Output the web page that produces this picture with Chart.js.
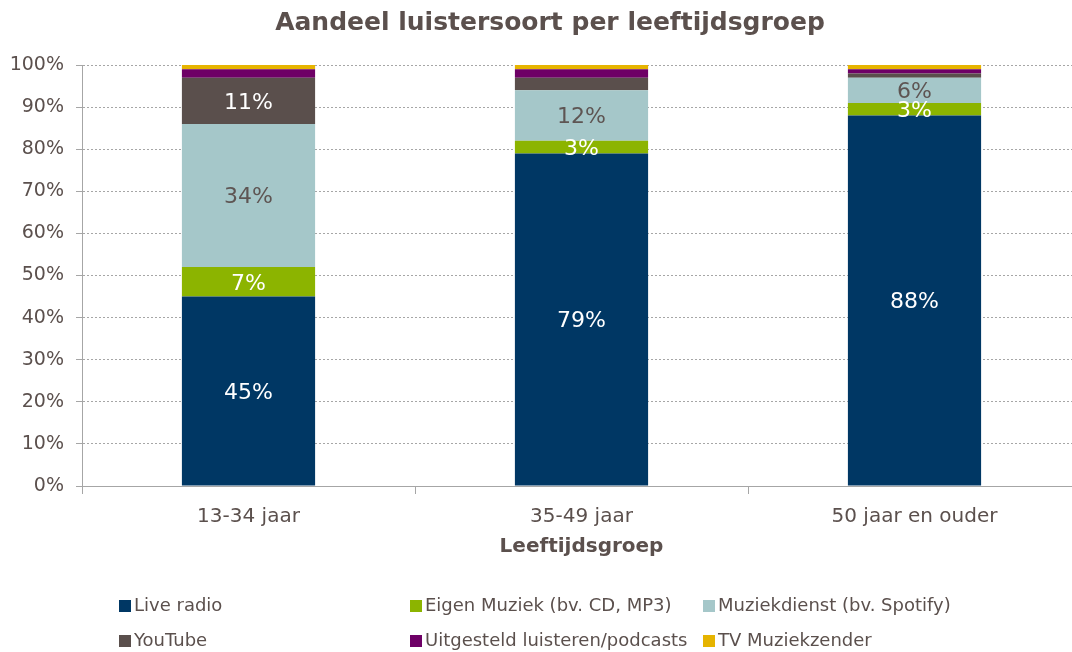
<!DOCTYPE html>
<html>
<head>
<meta charset="utf-8">
<title>Aandeel luistersoort per leeftijdsgroep</title>
<script src="https://cdn.jsdelivr.net/npm/chart.js@4/dist/chart.umd.min.js"></script>
<style>
  html, body { margin: 0; padding: 0; background: #fff; overflow: hidden; }
  #wrap { position: relative; width: 1090px; height: 652px; }
</style>
</head>
<body>
<div id="wrap"><canvas id="luisterChart"></canvas></div>
<script>
// data (percentages)
const categories = ['13-34 jaar', '35-49 jaar', '50 jaar en ouder'];
const seriesNames = ['Live radio', 'Eigen Muziek (bv. CD, MP3)', 'Muziekdienst (bv. Spotify)',
                     'YouTube', 'Uitgesteld luisteren/podcasts', 'TV Muziekzender'];
const liveRadio = [45, 79, 88];
const eigenMuziek = [7, 3, 3];
const muziekdienst = [34, 12, 6];
const youtube = [11, 3, 1];
const uitgesteld = [2, 2, 1];
const tvMuziekzender = [1, 1, 1];
const yTicks = [0, 10, 20, 30, 40, 50, 60, 70, 80, 90, 100];

const seriesColors = ['#003764', '#8cb400', '#a5c7c9', '#5a4f4c', '#6e0066', '#e6b400'];
const labelColors = ['#ffffff', '#ffffff', '#5e5553', '#ffffff', '#ffffff', '#ffffff'];
const labelMin = [3, 3, 3, 5, 5, 5]; // smaller segments get no label
const textColor = '#5b504d';
const axisColor = '#a6a6a6';
const FONT = '"DejaVu Sans", Verdana, sans-serif';

const seriesValues = [liveRadio, eigenMuziek, muziekdienst, youtube, uitgesteld, tvMuziekzender];

// values in the middle of each segment
const segmentLabels = {
    id: 'segmentLabels',
    afterDatasetsDraw(chart) {
        const ctx = chart.ctx;
        ctx.save();
        ctx.font = '22px ' + FONT;
        ctx.textAlign = 'center';
        ctx.textBaseline = 'middle';
        chart.data.datasets.forEach((ds, i) => {
            const meta = chart.getDatasetMeta(i);
            meta.data.forEach((bar, j) => {
                const v = ds.data[j];
                if (v < labelMin[i]) return;
                const p = bar.getProps(['x', 'y', 'base'], true);
                ctx.fillStyle = labelColors[i];
                ctx.fillText(v + '%', p.x, (p.y + p.base) / 2 + 2);
            });
        });
        ctx.restore();
    }
};

// title and legend drawn by hand so the legend keeps its column grid
const titleAndLegend = {
    id: 'titleAndLegend',
    afterDraw(chart) {
        const ctx = chart.ctx;
        ctx.save();
        ctx.fillStyle = textColor;
        ctx.font = 'bold 25px ' + FONT;
        ctx.textAlign = 'center';
        ctx.textBaseline = 'middle';
        ctx.fillText('Aandeel luistersoort per leeftijdsgroep', 550, 23);

        const colX = [119, 410, 703];
        const rowY = [606, 641];
        ctx.font = '18px ' + FONT;
        ctx.textAlign = 'left';
        chart.data.datasets.forEach((ds, i) => {
            const x = colX[i % 3];
            const y = rowY[Math.floor(i / 3)];
            ctx.fillStyle = ds.backgroundColor;
            ctx.fillRect(x, y - 6, 12, 12);
            ctx.fillStyle = textColor;
            ctx.fillText(ds.label, x + 15, y);
        });
        ctx.restore();
    }
};

const ctx = document.getElementById('luisterChart').getContext('2d');
const luisterChart = new Chart(ctx, {
    type: 'bar',
    data: {
        labels: categories,
        datasets: seriesNames.map((name, i) => ({
            label: name,
            data: seriesValues[i],
            backgroundColor: seriesColors[i],
            borderWidth: 0,
            barPercentage: 0.4,
            categoryPercentage: 1.0
        }))
    },
    options: {
        responsive: true,
        maintainAspectRatio: false,
        animation: false,
        layout: { padding: { top: 65, bottom: 93, left: 0, right: 9 } },
        plugins: {
            legend: { display: false },
            title: { display: false },
            tooltip: { enabled: false }
        },
        scales: {
            x: {
                stacked: true,
                afterFit: (scale) => { scale.height = 73; },
                grid: {
                    display: true,
                    drawOnChartArea: false,
                    drawTicks: true,
                    tickLength: 8,
                    color: axisColor
                },
                border: { display: true, color: axisColor, width: 1 },
                ticks: { color: textColor, font: { family: FONT, size: 20 }, padding: 11 },
                title: {
                    display: true,
                    text: 'Leeftijdsgroep',
                    color: textColor,
                    font: { family: FONT, size: 20, weight: 'bold' },
                    padding: { top: 0, bottom: 0 }
                }
            },
            y: {
                stacked: true,
                min: yTicks[0],
                max: yTicks[yTicks.length - 1],
                afterFit: (scale) => { scale.width = 82; },
                afterBuildTicks: (scale) => { scale.ticks = yTicks.map(v => ({ value: v })); },
                grid: {
                    color: axisColor,
                    tickBorderDash: [],
                    tickColor: axisColor,
                    tickLength: 6
                },
                border: { display: true, color: axisColor, width: 1, dash: [2, 2] },
                ticks: {
                    color: textColor,
                    font: { family: FONT, size: 19 },
                    padding: 12,
                    callback: (v) => v + '%'
                }
            }
        }
    },
    plugins: [segmentLabels, titleAndLegend]
});
</script>
</body>
</html>
